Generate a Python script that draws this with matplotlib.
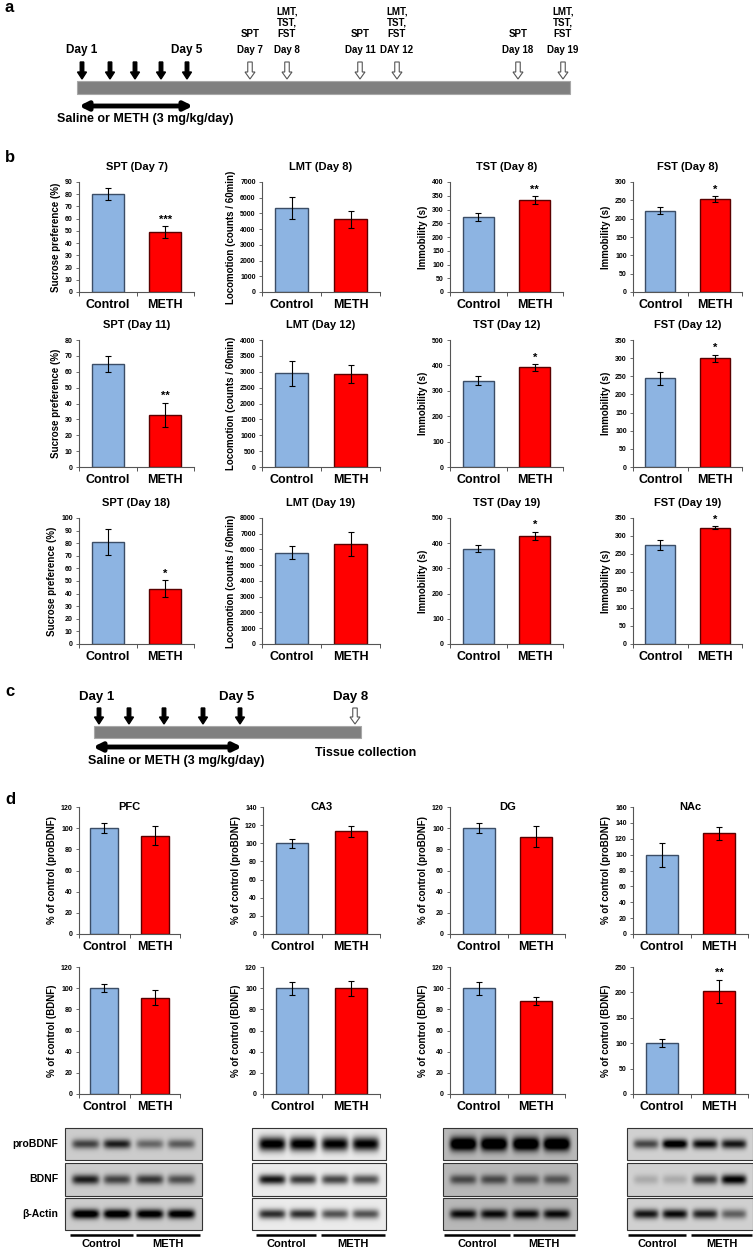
import numpy as np
import matplotlib.pyplot as plt
from matplotlib.patches import Rectangle

plt.rcParams['font.family'] = ['Liberation Sans', 'DejaVu Sans']
plt.rcParams['font.weight'] = 'bold'

# ---------------- data ----------------
groups = ['Control', 'METH']

# panel b: rows = day sets, columns = tests
b_titles = [['SPT (Day 7)', 'LMT (Day 8)', 'TST (Day 8)', 'FST (Day 8)'],
            ['SPT (Day 11)', 'LMT (Day 12)', 'TST (Day 12)', 'FST (Day 12)'],
            ['SPT (Day 18)', 'LMT (Day 19)', 'TST (Day 19)', 'FST (Day 19)']]
b_ylabels = ['Sucrose preference (%)', 'Locomotion (counts / 60min)',
             'Immobility (s)', 'Immobility (s)']
spt_mean = [[80, 49], [65, 33], [81, 44]]
spt_err = [[5, 5], [5, 7.5], [10, 7]]
lmt_mean = [[5350, 4620], [2950, 2920], [5800, 6350]]
lmt_err = [[680, 530], [400, 280], [420, 780]]
tst_mean = [[272, 334], [340, 392], [378, 430]]
tst_err = [[14, 15], [18, 14], [14, 16]]
fst_mean = [[222, 253], [245, 300], [275, 323]]
fst_err = [[10, 8], [18, 10], [15, 4]]
b_stars = [['***', '', '**', '*'], ['**', '', '*', '*'], ['*', '', '*', '*']]
b_ymax = [[90, 7000, 400, 300], [80, 4000, 500, 350], [100, 8000, 500, 350]]
b_ystep = [[10, 1000, 50, 50], [10, 500, 100, 50], [10, 1000, 100, 50]]

# panel d
regions = ['PFC', 'CA3', 'DG', 'NAc']
pro_mean = [[100, 93], [100, 113], [100, 92], [100, 127]]
pro_err = [[5, 9], [5, 6], [5, 10], [15, 8]]
pro_ymax = [120, 140, 120, 160]
bdnf_mean = [[100, 91], [100, 100], [100, 88], [100, 202]]
bdnf_err = [[4, 7], [6, 7], [6, 4], [8, 23]]
bdnf_ymax = [120, 120, 120, 250]
bdnf_ystep = [20, 20, 20, 50]
bdnf_stars = ['', '', '', '**']

# western blot band darkness (4 lanes: 2 control, 2 METH)
blot_rows = ['proBDNF', 'BDNF', 'β-Actin']
blot_pro = [[0.55, 0.7, 0.4, 0.45], [1.0, 1.0, 0.95, 0.95], [1.0, 1.0, 1.0, 1.0], [0.55, 0.95, 0.8, 0.75]]
blot_bdnf = [[0.7, 0.55, 0.6, 0.5], [0.85, 0.7, 0.65, 0.6], [0.45, 0.45, 0.4, 0.4], [0.15, 0.15, 0.6, 0.85]]
blot_actin = [[0.95, 0.95, 0.9, 0.9], [0.75, 0.75, 0.6, 0.6], [0.7, 0.7, 0.7, 0.7], [0.75, 0.8, 0.7, 0.45]]
blot_bg = [0.8, 0.92, 0.72, 0.82]

# timeline schematic
a_inject_x = [82, 110, 135, 161, 187]
a_test_x = [250, 287, 360, 397, 518, 563]
a_test_names = ['SPT', 'LMT,\nTST,\nFST', 'SPT', 'LMT,\nTST,\nFST', 'SPT', 'LMT,\nTST,\nFST']
a_test_days = ['Day 7', 'Day 8', 'Day 11', 'DAY 12', 'Day 18', 'Day 19']
c_inject_x = [99, 129, 164, 203, 240]
c_test_x = [355]

C_CTRL, E_CTRL = '#8db4e2', '#3b4d66'
C_METH, E_METH = '#ff0000', '#5a0000'

W, H = 753, 1251
fig = plt.figure(figsize=(W / 100, H / 100), dpi=100)
bg = fig.add_axes([0, 0, 1, 1])
bg.axis('off')


def px_axes(x0, y0, x1, y1):
    return fig.add_axes([x0 / W, 1 - y1 / H, (x1 - x0) / W, (y1 - y0) / H])


def bar_panel(ax, mean, err, ymax, ystep, ylabel, star=''):
    ax.bar([0, 1], mean, width=0.55, color=[C_CTRL, C_METH],
           edgecolor=[E_CTRL, E_METH], linewidth=1.0, zorder=2)
    ax.errorbar([0, 1], mean, yerr=err, fmt='none', ecolor='black',
                elinewidth=0.8, capsize=2, capthick=0.8, zorder=3)
    ax.set_xlim(-0.5, 1.5)
    ax.set_ylim(0, ymax)
    ax.set_yticks(np.arange(0, ymax + ystep / 2, ystep))
    ax.set_xticks([0, 1])
    ax.set_xticklabels(groups, fontsize=9, fontweight='bold')
    ax.set_xticks([-0.5, 0.5, 1.5], minor=True)
    ax.tick_params(axis='x', which='major', length=0, pad=5)
    ax.tick_params(axis='x', which='minor', length=3, width=0.7, direction='out', color='#555555')
    ax.tick_params(axis='y', length=2.5, width=0.6, labelsize=5, pad=2, color='#555555')
    for s in ['top', 'right']:
        ax.spines[s].set_visible(False)
    for s in ['left', 'bottom']:
        ax.spines[s].set_color('#555555')
        ax.spines[s].set_linewidth(0.8)
    ax.set_ylabel(ylabel, fontsize=7, fontweight='bold', labelpad=3)
    ax.patch.set_alpha(0)
    if star:
        ax.annotate(star, (1, mean[1] + err[1]), xytext=(0, 1), textcoords='offset points',
                    ha='center', va='bottom', fontsize=8, fontweight='bold')


# ---------------- panel a ----------------
bg.text(5, 8, 'a', fontsize=12, fontweight='bold', va='center', ha='left')
bg.add_patch(Rectangle((77, 81), 493, 13, fc='#808080', ec='#a8a8a8', lw=0.8))
for x in a_inject_x:
    bg.arrow(x, 62, 0, 17, width=3.5, head_width=9, head_length=7,
             length_includes_head=True, fc='black', ec='black')
for x, name, day in zip(a_test_x, a_test_names, a_test_days):
    bg.arrow(x, 62, 0, 17, width=4.5, head_width=10, head_length=7,
             length_includes_head=True, fc='white', ec='#555555', lw=0.8)
    bg.text(x, 39, name, ha='center', va='bottom', fontsize=7, fontweight='bold',
            linespacing=1.15)
    bg.text(x, 50, day, ha='center', va='center', fontsize=7, fontweight='bold')
bg.text(a_inject_x[0], 50, 'Day 1', ha='center', va='center', fontsize=8.5, fontweight='bold')
bg.text(a_inject_x[-1], 50, 'Day 5', ha='center', va='center', fontsize=8.5, fontweight='bold')
bg.annotate('', xy=(79, 106), xytext=(193, 106),
            arrowprops=dict(arrowstyle='<|-|>', lw=3.5, color='black',
                            mutation_scale=12, shrinkA=0, shrinkB=0))
bg.text(145, 119, 'Saline or METH (3 mg/kg/day)', ha='center', va='center',
        fontsize=9, fontweight='bold')

# ---------------- panel b ----------------
bg.text(5, 158, 'b', fontsize=12, fontweight='bold', va='center', ha='left')
b_cols = [(79, 194), (262, 380), (450, 563), (633, 742)]
b_rows = [(182, 292), (340, 467), (518, 644)]
tests_mean = [spt_mean, lmt_mean, tst_mean, fst_mean]
tests_err = [spt_err, lmt_err, tst_err, fst_err]
for r, (y0, y1) in enumerate(b_rows):
    for c, (x0, x1) in enumerate(b_cols):
        ax = px_axes(x0, y0, x1, y1)
        bar_panel(ax, tests_mean[c][r], tests_err[c][r], b_ymax[r][c], b_ystep[r][c],
                  b_ylabels[c], b_stars[r][c])
        ax.annotate(b_titles[r][c], (0.5, 1), xycoords='axes fraction',
                    xytext=(0, 11), textcoords='offset points',
                    ha='center', va='center', fontsize=8, fontweight='bold')

# ---------------- panel c ----------------
bg.text(5, 692, 'c', fontsize=12, fontweight='bold', va='center', ha='left')
bg.add_patch(Rectangle((94, 726), 267, 12, fc='#808080', ec='#a8a8a8', lw=0.8))
for x in c_inject_x:
    bg.arrow(x, 708, 0, 16, width=3.5, head_width=9, head_length=7,
             length_includes_head=True, fc='black', ec='black')
for x in c_test_x:
    bg.arrow(x, 708, 0, 16, width=4.5, head_width=10, head_length=7,
             length_includes_head=True, fc='white', ec='#555555', lw=0.8)
for x, lbl in zip([97, 237, 351], ['Day 1', 'Day 5', 'Day 8']):
    bg.text(x, 697, lbl, ha='center', va='center', fontsize=9.5, fontweight='bold')
bg.annotate('', xy=(93, 747), xytext=(242, 747),
            arrowprops=dict(arrowstyle='<|-|>', lw=3.5, color='black',
                            mutation_scale=12, shrinkA=0, shrinkB=0))
bg.text(176, 761, 'Saline or METH (3 mg/kg/day)', ha='center', va='center',
        fontsize=9, fontweight='bold')
bg.text(366, 753, 'Tissue collection', ha='center', va='center',
        fontsize=9, fontweight='bold')

# ---------------- panel d ----------------
bg.text(5, 800, 'd', fontsize=12, fontweight='bold', va='center', ha='left')
d_cols = [(79, 180), (263, 380), (450, 565), (633, 748)]
for i, (x0, x1) in enumerate(d_cols):
    ax = px_axes(x0, 807, x1, 934)
    bar_panel(ax, pro_mean[i], pro_err[i], pro_ymax[i], 20, '% of control (proBDNF)')
    ax.text(0.5, 1, regions[i], transform=ax.transAxes, ha='center', va='center',
            fontsize=8, fontweight='bold')
    ax = px_axes(x0, 967, x1, 1094)
    bar_panel(ax, bdnf_mean[i], bdnf_err[i], bdnf_ymax[i], bdnf_ystep[i],
              '% of control (BDNF)', bdnf_stars[i])

# western blots
blot_x = [(65, 202), (252, 386), (443, 577), (627, 753)]
blot_y = [(1128, 1160), (1163, 1196), (1198, 1230)]
lane_pos = [0.15, 0.38, 0.62, 0.85]
for i, (x0, x1) in enumerate(blot_x):
    for j, (y0, y1) in enumerate(blot_y):
        levels = [blot_pro, blot_bdnf, blot_actin][j][i]
        nx, ny = int(x1 - x0) * 2, int(y1 - y0) * 2
        X, Y = np.meshgrid(np.linspace(0, 1, nx), np.linspace(0, 1, ny))
        img = np.full_like(X, blot_bg[i])
        thick = 0.22 if j == 0 and i in (1, 2) else 0.15
        for xc, lv in zip(lane_pos, levels):
            img -= lv * np.exp(-((X - xc) / 0.1) ** 6 - ((Y - 0.5) / thick) ** 2)
        bg.imshow(np.clip(img, 0, 1), extent=(x0, x1, y1, y0), cmap='gray',
                  vmin=0, vmax=1, aspect='auto', interpolation='bilinear', zorder=1)
        bg.add_patch(Rectangle((x0, y0), x1 - x0, y1 - y0, fc='none', ec='#333333',
                               lw=0.8, zorder=2))
for lbl, (y0, y1) in zip(blot_rows, blot_y):
    bg.text(58, (y0 + y1) / 2, lbl, ha='right', va='center', fontsize=7.5, fontweight='bold')

under_lines = [[(70, 133), (136, 200)], [(256, 316), (321, 385)],
               [(444, 510), (513, 575)], [(628, 686), (691, 752)]]
for segs in under_lines:
    for (a0, a1), g in zip(segs, groups):
        bg.plot([a0, a1], [1235, 1235], color='black', lw=1.8, solid_capstyle='butt')
        bg.text((a0 + a1) / 2, 1244, g, ha='center', va='center', fontsize=8, fontweight='bold')

bg.set_xlim(0, W)
bg.set_ylim(H, 0)

fig.savefig('out.png', dpi=100)
